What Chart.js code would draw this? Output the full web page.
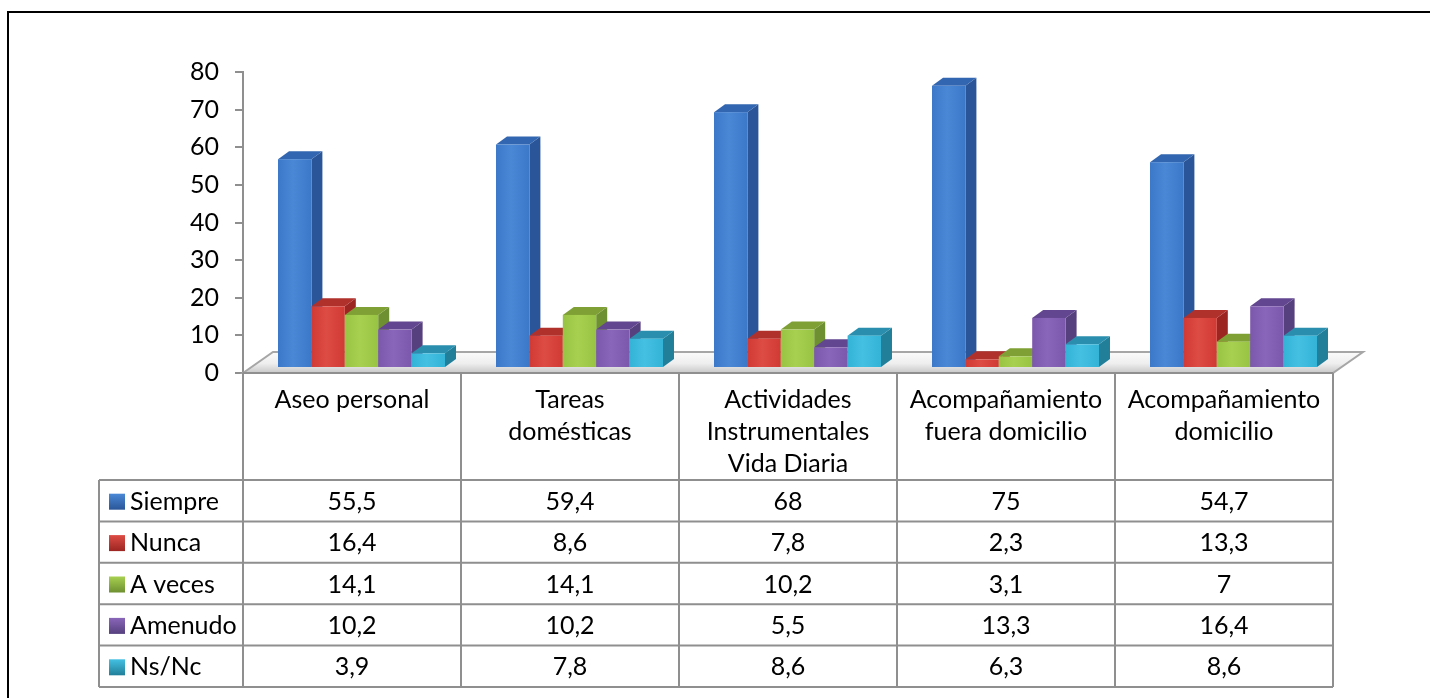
<!DOCTYPE html>
<html lang="es">
<head>
    <meta charset="UTF-8">
    <title>Frecuencia de ayuda por actividad</title>
    <style>
        body {
            margin: 0;
            background-color: #fff;
        }
        #chart {
            display: block;
        }
    </style>
</head>
<body>
    <canvas id="chart" width="1430" height="698"></canvas>

    <script src="https://cdn.jsdelivr.net/npm/chart.js@4.4.1/dist/chart.umd.min.js"></script>
    <script>
        // categorías (cada una puede ir en varias líneas)
        const categorias = [
            ['Aseo personal'],
            ['Tareas', 'domésticas'],
            ['Actividades', 'Instrumentales', 'Vida Diaria'],
            ['Acompañamiento', 'fuera domicilio'],
            ['Acompañamiento', 'domicilio']
        ];

        const siempre = [55.5, 59.4, 68, 75, 54.7];
        const nunca = [16.4, 8.6, 7.8, 2.3, 13.3];
        const aVeces = [14.1, 14.1, 10.2, 3.1, 7];
        const amenudo = [10.2, 10.2, 5.5, 13.3, 16.4];
        const nsNc = [3.9, 7.8, 8.6, 6.3, 8.6];

        const series = ['Siempre', 'Nunca', 'A veces', 'Amenudo', 'Ns/Nc'];

        // colores de cada serie: cara frontal, lateral y superior
        const colores = [
            { frente: '#3c78c8', claro: '#4a88d6', lado: '#2a5699', arriba: '#3366b0' },
            { frente: '#d13a34', claro: '#dd4c44', lado: '#9c2522', arriba: '#b0302c' },
            { frente: '#98c443', claro: '#a8d050', lado: '#6e9031', arriba: '#7fa034' },
            { frente: '#7c58ac', claro: '#8a66ba', lado: '#56407e', arriba: '#634690' },
            { frente: '#34b3d7', claro: '#44c0e2', lado: '#217f9a', arriba: '#2a8fae' }
        ];

        const FUENTE = '25px Lato';
        const GRIS = '#8f8f8f';

        // desplazamientos de la perspectiva
        const DESPL_X = 9.5, DESPL_Y = -5;     // cara frontal respecto al eje
        const PROF_X = 11, PROF_Y = -8;         // profundidad de cada barra
        const SUELO_X = 30, SUELO_Y = -21;      // fondo del suelo

        const TABLA_IZQ = 99;
        const CABECERA_ALTO = 107;
        const FILA_ALTO = 41.4;

        function coma(v) {
            return String(v).replace('.', ',');
        }

        function gradienteFrente(ctx, x0, x1, c) {
            const g = ctx.createLinearGradient(x0, 0, x1, 0);
            g.addColorStop(0, c.frente);
            g.addColorStop(0.45, c.claro);
            g.addColorStop(1, c.frente);
            return g;
        }

        // marco exterior
        const marco = {
            id: 'marco',
            beforeDraw(chart) {
                const ctx = chart.ctx;
                ctx.save();
                ctx.fillStyle = '#fff';
                ctx.fillRect(0, 0, chart.width, chart.height);
                ctx.strokeStyle = '#000';
                ctx.lineWidth = 2;
                ctx.beginPath();
                ctx.moveTo(8, chart.height + 2);
                ctx.lineTo(8, 12);
                ctx.lineTo(chart.width + 2, 12);
                ctx.stroke();
                ctx.restore();
            }
        };

        // suelo en perspectiva debajo de las barras
        const suelo = {
            id: 'suelo',
            beforeDatasetsDraw(chart) {
                const { ctx, chartArea: a } = chart;
                ctx.save();
                const g = ctx.createLinearGradient(0, a.bottom + SUELO_Y, 0, a.bottom);
                g.addColorStop(0, '#fbfbfb');
                g.addColorStop(0.55, '#eeeeee');
                g.addColorStop(1, '#c8c8c8');
                ctx.fillStyle = g;
                ctx.beginPath();
                ctx.moveTo(a.left, a.bottom);
                ctx.lineTo(a.left + SUELO_X, a.bottom + SUELO_Y);
                ctx.lineTo(a.right + SUELO_X, a.bottom + SUELO_Y);
                ctx.lineTo(a.right, a.bottom);
                ctx.closePath();
                ctx.fill();
                ctx.strokeStyle = '#a6a6a6';
                ctx.lineWidth = 2;
                ctx.stroke();
                ctx.restore();
            }
        };

        // barras en 3D a partir de los elementos calculados por Chart.js
        const barras3d = {
            id: 'barras3d',
            afterDatasetsDraw(chart) {
                const ctx = chart.ctx;
                const metas = chart.data.datasets.map((d, i) => chart.getDatasetMeta(i));
                ctx.save();
                for (let j = 0; j < categorias.length; j++) {
                    metas.forEach((meta, i) => {
                        const el = meta.data[j];
                        const c = colores[i];
                        const x0 = el.x - el.width / 2 + DESPL_X;
                        const x1 = el.x + el.width / 2 + DESPL_X;
                        const top = el.y + DESPL_Y;
                        const base = el.base + DESPL_Y;

                        // lateral
                        ctx.fillStyle = c.lado;
                        ctx.beginPath();
                        ctx.moveTo(x1, base);
                        ctx.lineTo(x1, top);
                        ctx.lineTo(x1 + PROF_X, top + PROF_Y);
                        ctx.lineTo(x1 + PROF_X, base + PROF_Y);
                        ctx.closePath();
                        ctx.fill();

                        // superior
                        ctx.fillStyle = c.arriba;
                        ctx.beginPath();
                        ctx.moveTo(x0, top);
                        ctx.lineTo(x0 + PROF_X, top + PROF_Y);
                        ctx.lineTo(x1 + PROF_X, top + PROF_Y);
                        ctx.lineTo(x1, top);
                        ctx.closePath();
                        ctx.fill();

                        // frente
                        ctx.fillStyle = gradienteFrente(ctx, x0, x1, c);
                        ctx.fillRect(x0, top, x1 - x0, base - top);
                    });
                }
                ctx.restore();
            }
        };

        // tabla de datos bajo el gráfico
        const tabla = {
            id: 'tabla',
            afterDraw(chart) {
                const { ctx, chartArea: a } = chart;
                const xs = chart.scales.x;
                const ancho = xs.width / categorias.length;
                const bordes = categorias.map((c, i) => xs.getPixelForValue(i) - ancho / 2);
                bordes.push(a.right);

                const yCab = a.bottom;
                const yDatos = yCab + CABECERA_ALTO;
                const yFin = yDatos + FILA_ALTO * series.length;

                ctx.save();
                ctx.strokeStyle = GRIS;
                ctx.lineWidth = 2;
                ctx.beginPath();
                // verticales
                bordes.forEach(x => {
                    ctx.moveTo(x, yCab);
                    ctx.lineTo(x, yFin);
                });
                ctx.moveTo(TABLA_IZQ, yDatos);
                ctx.lineTo(TABLA_IZQ, yFin);
                // horizontales
                ctx.moveTo(a.left, yCab);
                ctx.lineTo(a.right, yCab);
                for (let r = 0; r <= series.length; r++) {
                    const y = yDatos + r * FILA_ALTO;
                    ctx.moveTo(TABLA_IZQ, y);
                    ctx.lineTo(a.right, y);
                }
                ctx.stroke();

                ctx.fillStyle = '#000';
                ctx.font = FUENTE;
                ctx.textAlign = 'center';
                ctx.textBaseline = 'alphabetic';
                categorias.forEach((lineas, i) => {
                    const cx = xs.getPixelForValue(i);
                    lineas.forEach((t, k) => {
                        ctx.fillText(t, cx, yCab + 35 + k * 32);
                    });
                });

                ctx.textBaseline = 'middle';
                chart.data.datasets.forEach((d, r) => {
                    const cy = yDatos + r * FILA_ALTO + FILA_ALTO / 2 + 1;
                    // muestra de color
                    const g = ctx.createLinearGradient(0, cy - 8, 0, cy + 8);
                    g.addColorStop(0, colores[r].claro);
                    g.addColorStop(1, colores[r].lado);
                    ctx.fillStyle = g;
                    ctx.fillRect(TABLA_IZQ + 10, cy - 8, 16, 16);
                    ctx.fillStyle = '#000';
                    ctx.textAlign = 'left';
                    ctx.fillText(d.label, TABLA_IZQ + 31, cy);
                    ctx.textAlign = 'center';
                    d.data.forEach((v, i) => {
                        ctx.fillText(coma(v), xs.getPixelForValue(i), cy);
                    });
                });
                ctx.restore();
            }
        };

        const valores = [siempre, nunca, aVeces, amenudo, nsNc];

        new Chart(document.getElementById('chart'), {
            type: 'bar',
            data: {
                labels: categorias.map(c => c.join(' ')),
                datasets: series.map((s, i) => ({
                    label: s,
                    data: valores[i],
                    backgroundColor: 'rgba(0,0,0,0)',
                    borderWidth: 0,
                    categoryPercentage: 0.766,
                    barPercentage: 1
                }))
            },
            options: {
                responsive: false,
                animation: false,
                layout: {
                    padding: { left: 0, top: 72, right: 97, bottom: 325 }
                },
                plugins: {
                    legend: { display: false },
                    tooltip: { enabled: false }
                },
                scales: {
                    x: {
                        display: false,
                        offset: true
                    },
                    y: {
                        min: 0,
                        max: 80,
                        afterFit(scale) {
                            scale.width = 243;
                        },
                        ticks: {
                            stepSize: 10,
                            color: '#000',
                            font: { family: 'Lato', size: 25 },
                            padding: 16
                        },
                        grid: {
                            drawOnChartArea: false,
                            color: GRIS,
                            tickLength: 8,
                            lineWidth: 2
                        },
                        border: {
                            display: true,
                            color: GRIS,
                            width: 2
                        }
                    }
                }
            },
            plugins: [marco, suelo, barras3d, tabla]
        });
    </script>
</body>
</html>
